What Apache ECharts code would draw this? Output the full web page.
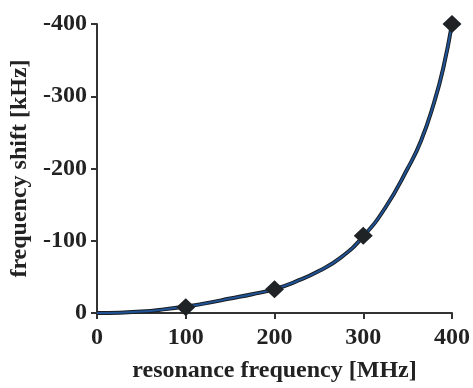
<!DOCTYPE html>
<html>
<head>
    <meta charset="utf-8"/>
    <script src="https://cdn.jsdelivr.net/npm/echarts@6/dist/echarts.min.js"></script>
</head>
<body style="margin:0">
<div id="main" style="width: 473px;height:388px;"></div>
<script type="text/javascript">
    // measured points
    var freqMHz = [100, 200, 300, 400];
    var shiftKHz = [-8, -33, -107, -400];

    // fitted curve
    var fitX = [0, 25, 50, 75, 100, 125, 150, 175, 200, 225, 250, 275, 300, 325, 350, 365, 380, 390, 400];
    var fitY = [0, -0.5, -2, -5, -9, -14, -20, -26, -33, -44, -58, -77, -106, -146, -200, -238, -292, -338, -400];

    var xTicks = [0, 100, 200, 300, 400];
    var yTicks = [0, -100, -200, -300, -400];

    var chartDom = document.getElementById('main');
    var myChart = echarts.init(chartDom);
    var option;

    var font = 'Liberation Serif';
    var ink = '#222';
    var fitData = fitX.map((x, i) => [x, fitY[i]]);

    option = {
        animation: false,
        grid: { left: 97, right: 21, top: 24, bottom: 75 },
        xAxis: {
            type: 'value',
            min: xTicks[0],
            max: xTicks[xTicks.length - 1],
            interval: 100,
            name: 'resonance frequency [MHz]',
            nameLocation: 'middle',
            nameGap: 46,
            nameTextStyle: { fontFamily: font, fontWeight: 'bold', fontSize: 24, color: ink },
            axisLine: { lineStyle: { color: '#333', width: 2 } },
            axisTick: { length: 6, lineStyle: { color: '#333', width: 2 } },
            axisLabel: { fontFamily: font, fontWeight: 'bold', fontSize: 24, color: ink, margin: 13 },
            splitLine: { show: false }
        },
        yAxis: {
            type: 'value',
            inverse: true,
            min: yTicks[yTicks.length - 1],
            max: yTicks[0],
            interval: 100,
            name: 'frequency shift [kHz]',
            nameLocation: 'middle',
            nameGap: 62,
            nameTextStyle: { fontFamily: font, fontWeight: 'bold', fontSize: 24, color: ink },
            axisLine: { show: true, lineStyle: { color: '#333', width: 2 } },
            axisTick: { show: true, length: 6, lineStyle: { color: '#333', width: 2 } },
            axisLabel: { fontFamily: font, fontWeight: 'bold', fontSize: 24, color: ink, margin: 10 },
            splitLine: { show: false }
        },
        series: [
            {
                // dark outline of the fit line
                type: 'line',
                data: fitData,
                smooth: 0.5,
                symbol: 'none',
                lineStyle: { color: '#1a1e22', width: 4 },
                z: 2
            },
            {
                type: 'line',
                data: fitData,
                smooth: 0.5,
                symbol: 'none',
                lineStyle: { color: '#1f5396', width: 2 },
                z: 3
            },
            {
                type: 'scatter',
                data: freqMHz.map((x, i) => [x, shiftKHz[i]]),
                symbol: 'diamond',
                symbolSize: [19, 18],
                itemStyle: { color: '#1f2326', opacity: 1 },
                z: 4
            }
        ]
    };

    option && myChart.setOption(option);
</script>
</body>
</html>
